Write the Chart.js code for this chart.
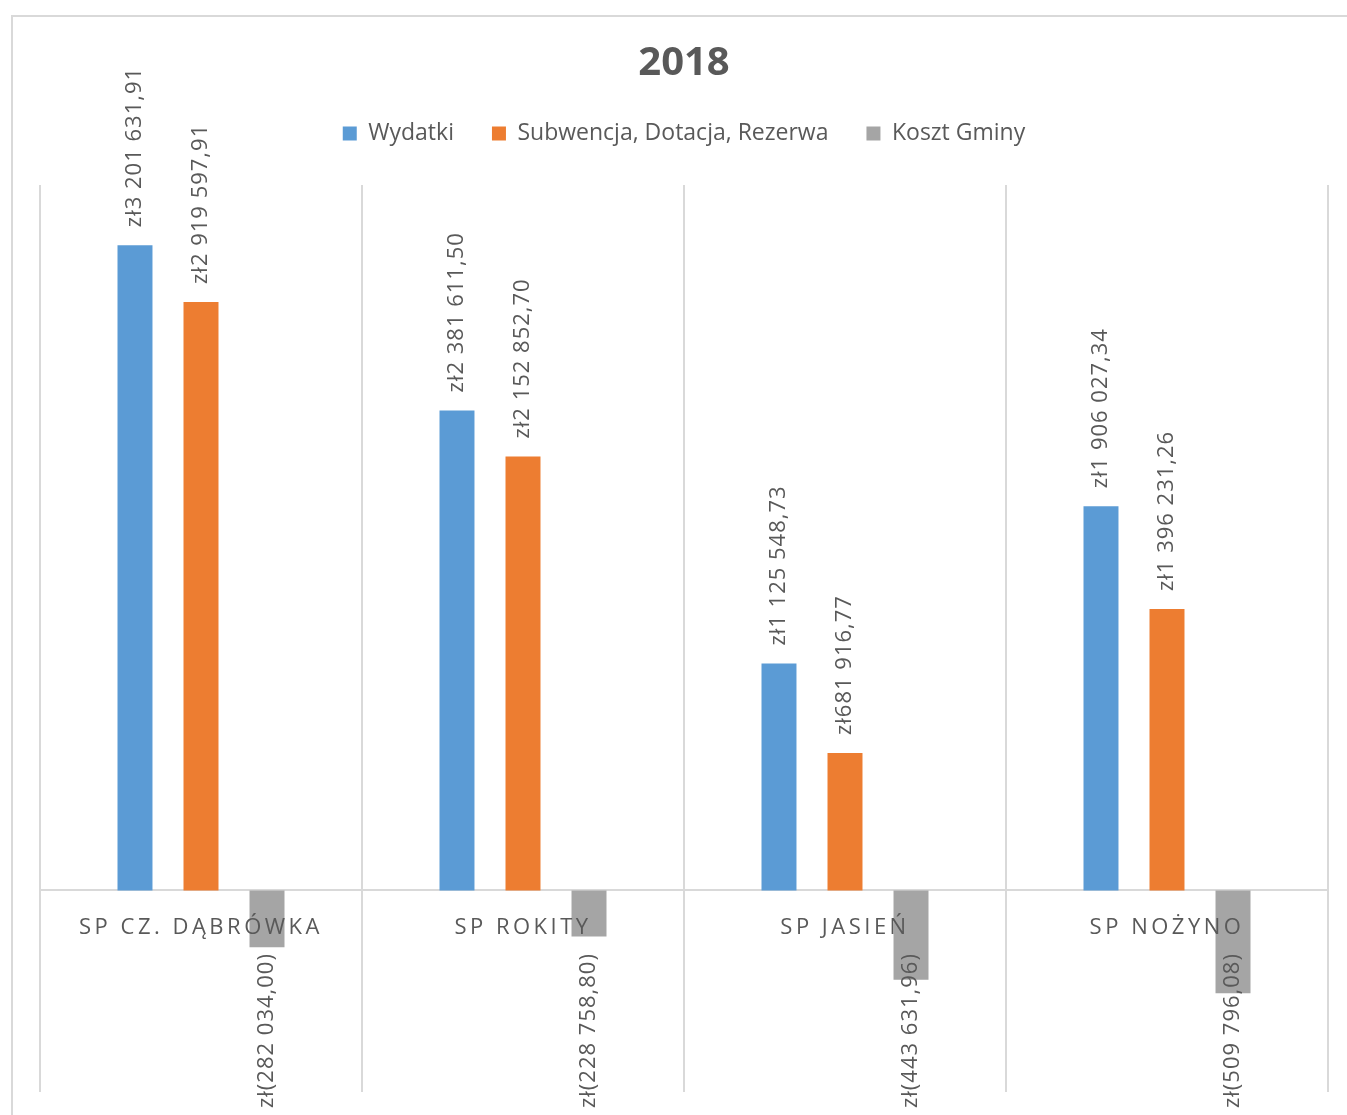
<!DOCTYPE html>
<html>
<head>
<meta charset="utf-8">
<script src="https://cdn.jsdelivr.net/npm/chart.js@4.4.1/dist/chart.umd.min.js"></script>
<style>
  html, body { margin: 0; padding: 0; background: #fff; overflow: hidden; }
  #wrap { position: relative; width: 1347px; height: 1115px; }
</style>
</head>
<body>
<div id="wrap"><canvas id="chart"></canvas></div>
<script>
const categories = ["SP CZ. DĄBRÓWKA", "SP ROKITY", "SP JASIEŃ", "SP NOŻYNO"];
const wydatki = [3201631.91, 2381611.50, 1125548.73, 1906027.34];
const subwencja = [2919597.91, 2152852.70, 681916.77, 1396231.26];
const kosztGminy = [-282034.00, -228758.80, -443631.96, -509796.08];

const textColor = "#595959";
const gridColor = "#d9d9d9";

const fmt = (v) => {
  const parts = Math.abs(v).toFixed(2).split(".");
  const t = parts[0].replace(/\B(?=(\d{3})+(?!\d))/g, " ") + "," + parts[1];
  return v < 0 ? "zł(" + t + ")" : "zł" + t;
};

// frame + labels drawn on top of the bars
const extras = {
  id: "extras",
  beforeInit(chart) {
    // leave room between legend and plot for the rotated labels
    const origFit = chart.legend.fit;
    chart.legend.fit = function () {
      origFit.bind(chart.legend)();
      this.height = 101;
    };
  },
  beforeDraw(chart) {
    const ctx = chart.ctx;
    ctx.save();
    ctx.strokeStyle = gridColor;
    ctx.lineWidth = 2;
    ctx.strokeRect(12, 16, 1400, 1200);
    ctx.restore();
  },
  afterDatasetsDraw(chart) {
    const ctx = chart.ctx;
    const area = chart.chartArea;
    const yScale = chart.scales.y;
    const xScale = chart.scales.x;

    // value labels, rotated
    ctx.save();
    ctx.font = "22px 'Open Sans'";
    ctx.fillStyle = textColor;
    ctx.letterSpacing = "1px";
    chart.data.datasets.forEach((ds, i) => {
      chart.getDatasetMeta(i).data.forEach((bar, j) => {
        const v = ds.data[j];
        ctx.save();
        ctx.translate(bar.x, v >= 0 ? bar.y - 18 : area.bottom + 16);
        ctx.rotate(-Math.PI / 2);
        ctx.textAlign = "left";
        ctx.textBaseline = "middle";
        ctx.fillText(fmt(v), 0, 0);
        ctx.restore();
      });
    });
    ctx.restore();

    // category labels just under the zero line
    ctx.save();
    ctx.font = "22px 'Open Sans'";
    ctx.fillStyle = textColor;
    ctx.letterSpacing = "3.5px";
    ctx.textAlign = "center";
    ctx.textBaseline = "middle";
    const y0 = yScale.getPixelForValue(0);
    categories.forEach((c, i) => {
      ctx.fillText(c, xScale.getPixelForValue(i), y0 + 37);
    });
    ctx.restore();
  }
};

new Chart(document.getElementById("chart"), {
  type: "bar",
  data: {
    labels: categories,
    datasets: [
      { label: "Wydatki", data: wydatki, backgroundColor: "#5b9bd5" },
      { label: "Subwencja, Dotacja, Rezerwa", data: subwencja, backgroundColor: "#ed7d31" },
      { label: "Koszt Gminy", data: kosztGminy, backgroundColor: "#a5a5a5" },
    ],
  },
  options: {
    responsive: true,
    maintainAspectRatio: false,
    animation: false,
    categoryPercentage: 0.615,
    barPercentage: 0.53,
    layout: { padding: { top: 15, left: 40, right: 19, bottom: 23 } },
    plugins: {
      title: {
        display: true,
        text: "2018",
        color: textColor,
        font: { family: "'Open Sans'", size: 40, weight: "bold", lineHeight: 1.0 },
        padding: { top: 29, bottom: 0 },
      },
      legend: {
        labels: {
          color: textColor,
          boxWidth: 14,
          boxHeight: 14,
          padding: 38,
          font: { family: "'Open Sans'", size: 23 },
        },
      },
      tooltip: { enabled: false },
    },
    scales: {
      x: {
        position: { y: 0 },
        grid: { offset: true, color: gridColor, lineWidth: 2, drawTicks: false },
        border: { color: gridColor, width: 2 },
        ticks: { display: false },
      },
      y: {
        display: false,
        min: -1000000,
        max: 3500000,
      },
    },
  },
  plugins: [extras],
});
</script>
</body>
</html>
